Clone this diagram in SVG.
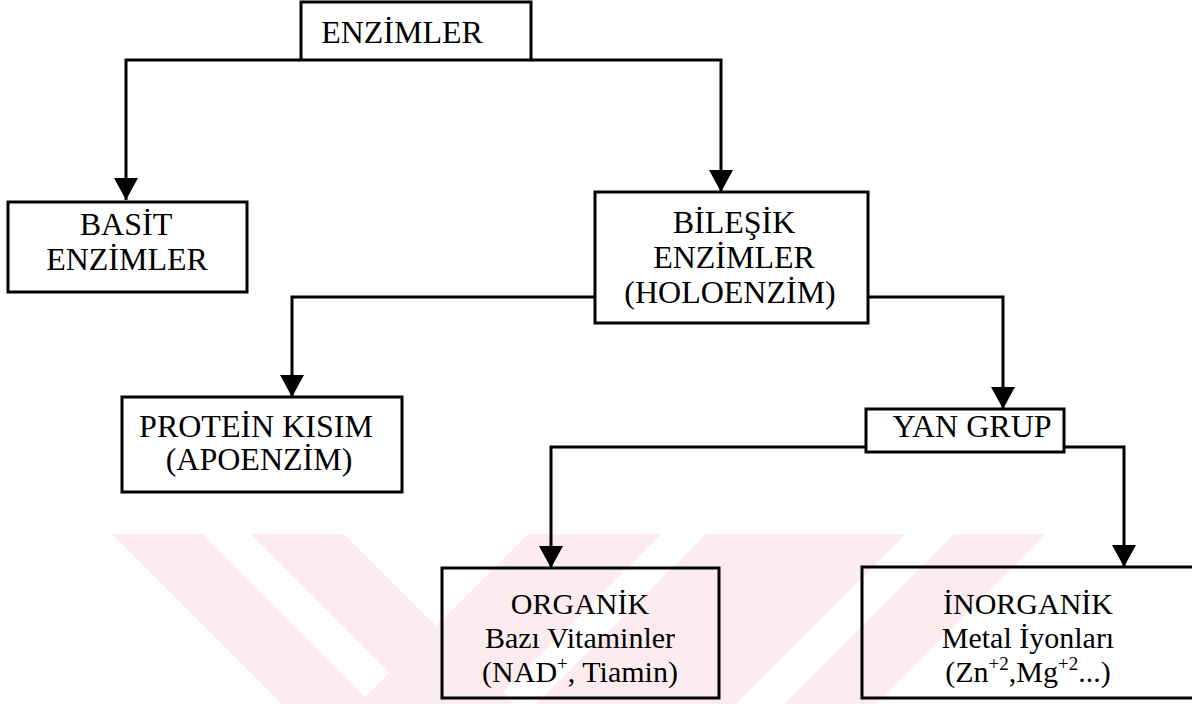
<svg xmlns="http://www.w3.org/2000/svg" width="1192" height="704" viewBox="0 0 1192 704">
<style>
.box{fill:none;stroke:#000;stroke-width:3}
.t{font-family:"Liberation Serif","Times New Roman",serif;font-size:32px;fill:#000;text-anchor:middle}
.s{font-size:30px}
.sup{font-size:19px}
.c{fill:none;stroke:#000;stroke-width:3}
.wm{fill:#fdecef}
</style>
<defs>
<marker id="ah" markerUnits="userSpaceOnUse" markerWidth="22" markerHeight="24" viewBox="0 0 22 24" refX="22" refY="12" orient="auto">
<path d="M0,0 L22,12 L0,24 z" fill="#000"/>
</marker>
</defs>
<rect width="1192" height="704" fill="#fff"/>
<g id="watermark">
<polygon class="wm" points="112,534 202,534 372,704 282,704"/>
<polygon class="wm" points="251,534 344,534 514,704 421,704"/>
<polygon class="wm" points="528,534 661,534 491,704 358,704"/>
<polygon class="wm" points="706,534 906,534 736,704 536,704"/>
<polygon class="wm" points="954,534 1046,534 876,704 784,704"/>
</g>
<g id="connectors">
<path class="c" d="M300,60 H126 V200" marker-end="url(#ah)"/>
<path class="c" d="M531,60 H721 V192" marker-end="url(#ah)"/>
<path class="c" d="M595,297 H292 V397" marker-end="url(#ah)"/>
<path class="c" d="M868,297 H1003 V409" marker-end="url(#ah)"/>
<path class="c" d="M866,447 H551 V568" marker-end="url(#ah)"/>
<path class="c" d="M1064,447 H1124 V567" marker-end="url(#ah)"/>
</g>
<g id="enzimler">
<rect class="box" x="301" y="2" width="230" height="58"/>
<text class="t" x="402" y="43">ENZİMLER</text>
</g>
<g id="basit">
<rect class="box" x="8" y="202" width="239" height="90"/>
<text class="t" x="126" y="235">BASİT</text>
<text class="t" x="127" y="270">ENZİMLER</text>
</g>
<g id="bilesik">
<rect class="box" x="595" y="192" width="273" height="131"/>
<text class="t" x="734" y="233">BİLEŞİK</text>
<text class="t" x="734" y="268">ENZİMLER</text>
<text class="t" x="730" y="303">(HOLOENZİM)</text>
</g>
<g id="protein">
<rect class="box" x="122" y="397" width="280" height="95"/>
<text class="t" x="256" y="437">PROTEİN KISIM</text>
<text class="t" x="259" y="470">(APOENZİM)</text>
</g>
<g id="yangrup">
<rect class="box" x="866" y="409" width="198" height="43"/>
<text class="t" x="972" y="437">YAN GRUP</text>
</g>
<g id="organik">
<rect class="box" x="442" y="568" width="277" height="130"/>
<text class="t s" x="580" y="614">ORGANİK</text>
<text class="t s" x="580" y="648">Bazı Vitaminler</text>
<text class="t s" x="580" y="682">(NAD<tspan class="sup" dy="-12">+</tspan><tspan dy="12">, Tiamin)</tspan></text>
</g>
<g id="inorganik">
<rect class="box" x="862" y="567" width="333" height="131"/>
<text class="t s" x="1028" y="614">İNORGANİK</text>
<text class="t s" x="1028" y="648">Metal İyonları</text>
<text class="t s" x="1028" y="682">(Zn<tspan class="sup" dy="-12">+2</tspan><tspan dy="12">,Mg</tspan><tspan class="sup" dy="-12">+2</tspan><tspan dy="12">...)</tspan></text>
</g>
</svg>
